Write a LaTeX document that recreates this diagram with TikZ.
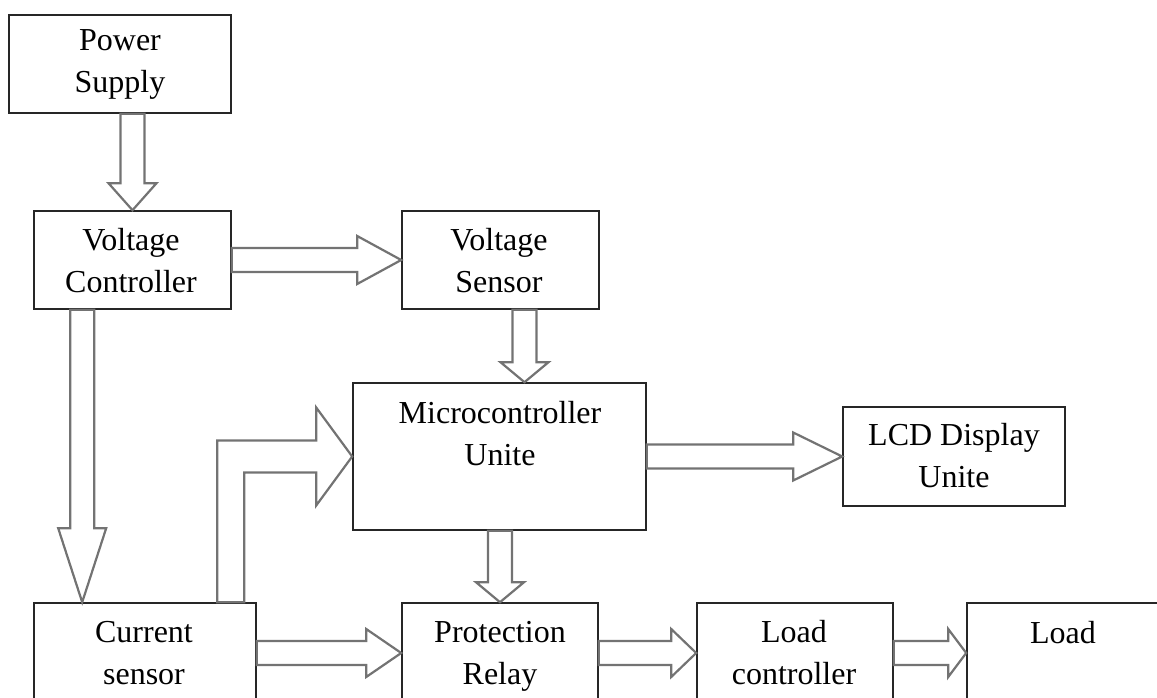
\documentclass[tikz,border=0pt]{standalone}
\usepackage{fontspec}
\setmainfont{Liberation Serif}
\usetikzlibrary{calc}

% hollow block arrows: tail point, tip point, head length
\newcommand{\downblock}[3]{%
  \draw[blockarrow] let \p1=(#1), \p2=(#2) in
    (\x2-12pt,\y1) -- (\x2-12pt,\y2+#3pt) -- (\x2-24pt,\y2+#3pt) -- (\x2,\y2)
    -- (\x2+24pt,\y2+#3pt) -- (\x2+12pt,\y2+#3pt) -- (\x2+12pt,\y1) -- cycle;}
\newcommand{\rightblock}[3]{%
  \draw[blockarrow] let \p1=(#1), \p2=(#2) in
    (\x1,\y2+12pt) -- (\x2-#3pt,\y2+12pt) -- (\x2-#3pt,\y2+24pt) -- (\x2,\y2)
    -- (\x2-#3pt,\y2-24pt) -- (\x2-#3pt,\y2-12pt) -- (\x1,\y2-12pt) -- cycle;}

\begin{document}
\begin{tikzpicture}[x=1pt, y=-1pt,
  unit/.style={rectangle, draw=black!85, line width=1.6pt, inner sep=0pt},
  lbl/.style={anchor=base, align=center, inner sep=0pt, font=\fontsize{32}{42}\selectfont},
  blockarrow/.style={draw=black!55, line width=2.2pt, line join=miter},
]
\clip (0,0) rectangle (1157,698);

% Boxes
\node[unit, minimum width=222, minimum height=98] (ps) at (120,64) {};
\node[unit, minimum width=197, minimum height=98] (vc) at (132.5,260) {};
\node[unit, minimum width=197, minimum height=98] (vs) at (500.5,260) {};
\node[unit, minimum width=293, minimum height=147] (mcu) at (499.5,456.5) {};
\node[unit, minimum width=222, minimum height=99] (lcd) at (954,456.5) {};
\node[unit, minimum width=222, minimum height=100] (cs) at (145,653) {};
\node[unit, minimum width=196, minimum height=100] (pr) at (500,653) {};
\node[unit, minimum width=196, minimum height=100] (lc) at (795,653) {};
\node[unit, minimum width=200, minimum height=100] (ld) at (1067,653) {};

% Labels (base = last line)
\node[lbl] at (120,93) {Power\\Supply};
\node[lbl] at (131,292) {Voltage\\Controller};
\node[lbl] at (499,292) {Voltage\\Sensor};
\node[lbl] at (500,465) {Microcontroller\\Unite};
\node[lbl] at (954,487) {LCD Display\\Unite};
\node[lbl] at (144,684) {Current\\sensor};
\node[lbl] at (500,684) {Protection\\Relay};
\node[lbl] at (794,684) {Load\\controller};
\node[lbl] at (1063,643) {Load};

% Arrows
\coordinate (vsout) at ($(vs.south)+(24,0)$);
\coordinate (vcout) at ($(vc.south west)+(49,0)$);
\coordinate (csout) at ($(cs.north west)+(197,0)$);
\downblock{ps.south -| vc.north}{vc.north}{27}
\rightblock{vc.east}{vs.west}{44}
\downblock{vsout}{vsout |- mcu.north}{20}
\downblock{vcout}{vcout |- cs.north}{74}
\draw[blockarrow] let \p1=(csout), \p2=(mcu.west) in
  (\x1-13pt,\y1) -- (\x1-13pt,\y2+16pt) -- (\x2-36pt,\y2+16pt) -- (\x2-36pt,\y2+49pt)
  -- (\x2,\y2) -- (\x2-36pt,\y2-49pt) -- (\x2-36pt,\y2-16pt) -- (\x1+14pt,\y2-16pt)
  -- (\x1+14pt,\y1) -- cycle;
\rightblock{mcu.east}{lcd.west}{49}
\downblock{mcu.south}{pr.north}{20}
\rightblock{cs.east}{pr.west}{35}
\rightblock{pr.east}{lc.west}{25}
\rightblock{lc.east}{ld.west}{18}
\end{tikzpicture}
\end{document}
